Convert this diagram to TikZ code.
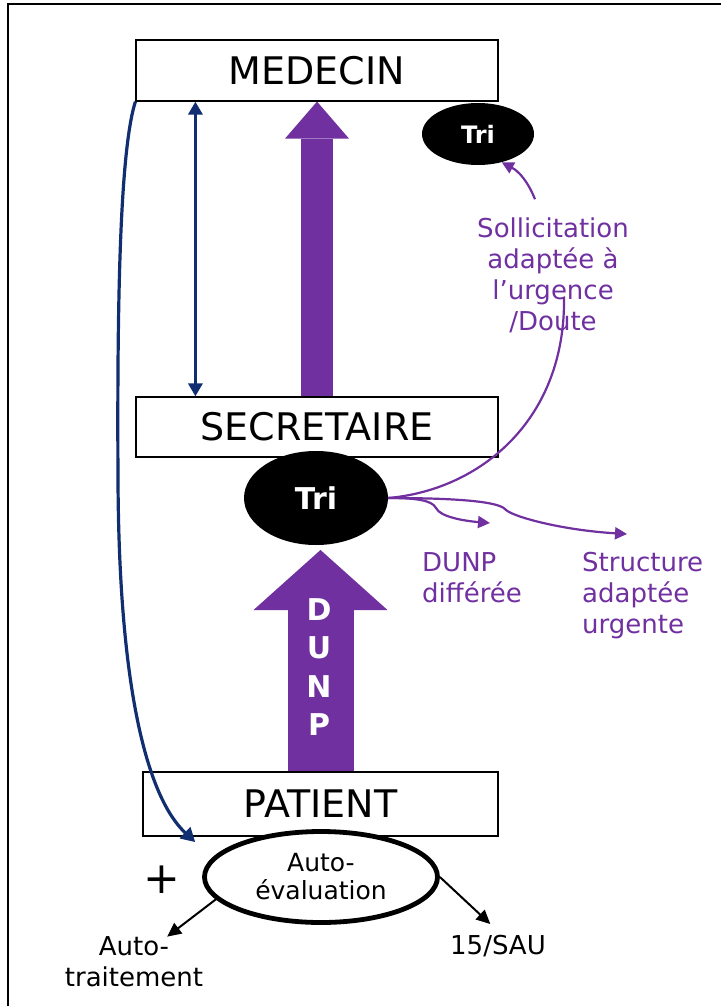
\documentclass[tikz,border=0pt]{standalone}
\usepackage{fontspec}
\setmainfont{DejaVu Sans}
\usepackage{tikz}
\usetikzlibrary{positioning,arrows.meta,shapes.geometric,calc}

\definecolor{triviolet}{RGB}{112,48,160}
\definecolor{marine}{RGB}{16,46,112}

\begin{document}
\begin{tikzpicture}[
    x=1pt, y=-1pt,
    box/.style={draw, line width=1.2pt, fill=white, minimum width=362pt, minimum height=61pt, inner sep=0pt, font=\fontsize{38}{44}\selectfont},
    tri/.style={ellipse, fill=black, text=white, inner sep=0pt},
    lbl/.style={text=triviolet, inner sep=0pt, font=\fontsize{26}{31}\selectfont},
    txt/.style={inner sep=0pt, align=center, font=\fontsize{26}{31}\selectfont},
    parr/.style={-{Triangle[length=12pt, width=12pt]}, draw=triviolet, line width=2.2pt},
    narr/.style={draw=marine, line width=3.2pt},
    barr/.style={-{Triangle[length=14pt, width=13pt]}, line width=2pt},
    bigarr/.style={draw=triviolet, line width=#1}
]
\useasboundingbox (0,0) rectangle (720,1006);
\draw[line width=1.6pt] (8,4) rectangle (800,1100);

% boxes
\node[box] (medecin) at (317,70.5) {MEDECIN};
\node[box, minimum height=60pt] (secretaire) at (317,427) {SECRETAIRE};
\node[box, minimum width=355pt, minimum height=64pt] (patient) at (320.5,804) {PATIENT};

% big arrows
\draw[bigarr=32pt, -{Triangle[length=37pt, width=64pt, line width=0pt]}] (secretaire.north) -- (medecin.south);
\draw[bigarr=66pt, -{Triangle[length=60pt, width=134pt, line width=0pt]}, shorten >=5pt] (patient.north) -- (patient.north |- 0,545);
\node[text=white, align=center, inner sep=0pt, font=\bfseries\fontsize{30}{38.3}\selectfont] (dunp) at (319,667) {D\\U\\N\\P};

% tri
\node[tri, minimum width=112pt, minimum height=62pt, font=\bfseries\fontsize{24}{28}\selectfont] (tri1) at (478,134) {Tri};
\node[tri, minimum width=144pt, minimum height=94pt, font=\bfseries\fontsize{30}{34}\selectfont] (tri2) at (316,498) {Tri};

% auto-evaluation
\node[ellipse, draw, line width=4.8pt, fill=white, minimum width=233pt, minimum height=91pt, inner sep=0pt, align=center, font=\fontsize{25}{28}\selectfont] (autoeval) at (321,877) {Auto-\\évaluation};
\node[inner sep=0pt, font=\fontsize{44}{50}\selectfont] (plus) at (162,880) {+};
\node[txt] (autotrait) at (134,962) {Auto-\\traitement};
\node[txt] (sau) at (498,946) {15/SAU};

% labels
\node[lbl, align=center] (sollic) at (553,275) {Sollicitation\\adaptée à\\l’urgence\\/Doute};
\node[lbl, align=left, anchor=west] (dunpd) at (422,578) {DUNP\\différée};
\node[lbl, align=left, anchor=west] (structure) at (582,596) {Structure\\adaptée\\urgente};
\coordinate (doute) at ($(sollic.south)+(11,-36)$);
\coordinate (solltop) at ($(sollic.north)+(-18,-18)$);
\coordinate (d1) at (490,523);
\coordinate (d2) at (627,534);

% connectors
\draw[narr, {Triangle[length=13pt, width=14pt]}-{Triangle[length=13pt, width=14pt]}] ($(medecin.south west)+(60,0)$) -- ($(secretaire.north west)+(60,0)$);
\draw[narr, -{Triangle[length=14pt, width=15pt]}, shorten >=23pt] (medecin.south west) .. controls (120,150) and (117,300) .. (118,480) .. controls (119,700) and (150,800) .. (autoeval.170);
\draw[triviolet, line width=2.2pt] (tri2.east) .. controls (480,490) and (566,420) .. (doute);
\draw[parr] (solltop) to[bend right=20] (tri1.-50);
\draw[parr] (tri2.east) .. controls (415,498) and (432,500) .. (436,508) .. controls (440,517) and (465,521) .. (d1);
\draw[parr] (tri2.east) .. controls (440,498) and (496,500) .. (505,509) .. controls (510,516) and (560,530) .. (d2);
\draw[barr] (autoeval.192) -- (autotrait);
\draw[barr, shorten >=16pt] (autoeval.east) -- (sau.70);
\end{tikzpicture}
\end{document}
